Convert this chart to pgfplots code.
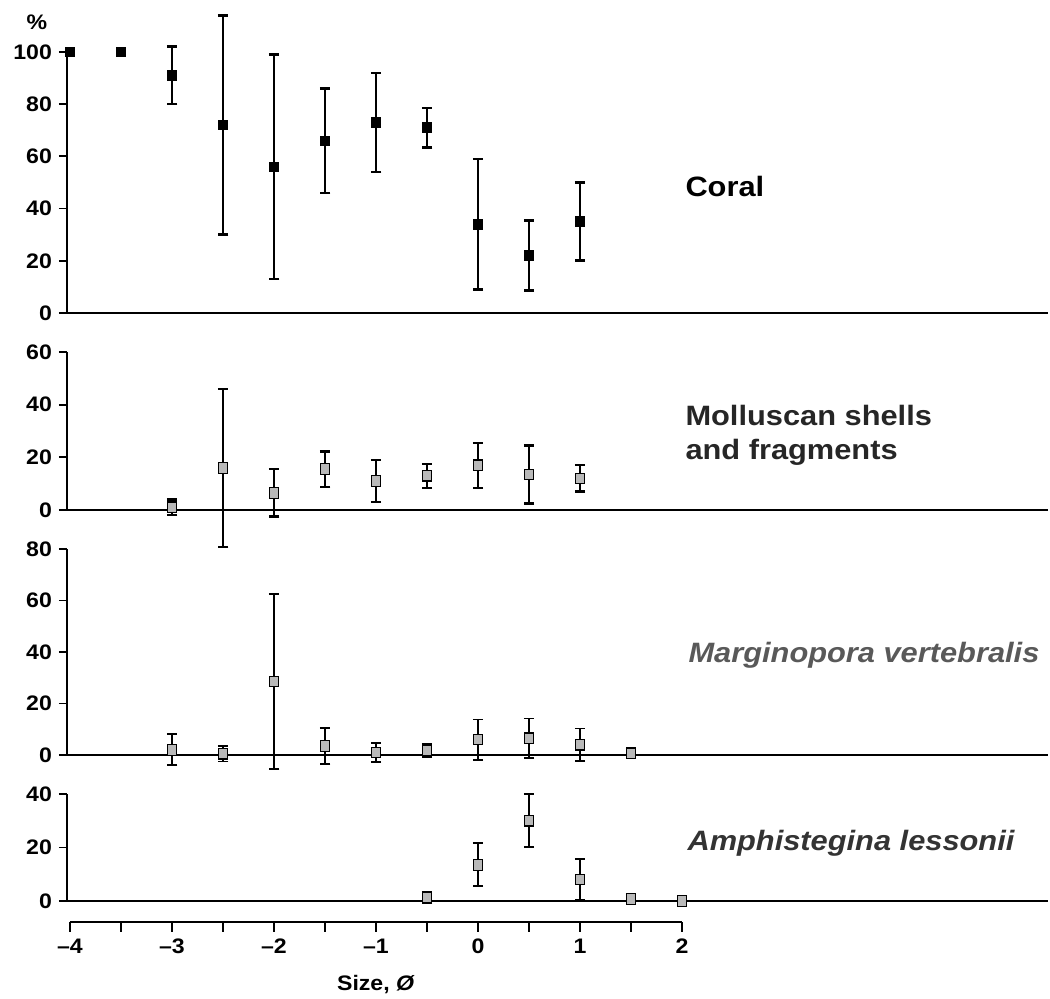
\documentclass[border=0pt]{standalone}
\usepackage{fontspec}
\setmainfont{Liberation Sans}[FakeStretch=1.1]
\usepackage{pgfplots}
\pgfplotsset{compat=1.18}
\usepackage{pgfplotstable}

\newcommand\ticks{\fontsize{10.5}{12}\selectfont\bfseries}
\newcommand\names{\fontsize{14}{17}\selectfont\bfseries}

% size (phi), percentage, error (+/-)
\pgfplotstableread{
x    y    e
-3   91   11
-2.5 72   42
-2   56   43
-1.5 66   20
-1   73   19
-0.5 71   7.5
0    34   25
0.5  22   13.5
1    35   15
}\coral
\pgfplotstableread{
x    y
-4   100
-3.5 100
}\coralnoerr
\pgfplotstableread{
x    y    e
-3   1    3
-2.5 16   30
-2   6.5  9
-1.5 15.5 6.7
-1   11   8
-0.5 13   4.5
0    17   8.5
0.5  13.5 11
1    12   5
}\mollusc
\pgfplotstableread{
x    y    e
-3   2    6
-2.5 0.5  3
-2   28.5 34
-1.5 3.5  7
-1   1    3.8
-0.5 1.8  2.5
0    6    7.8
0.5  6.5  7.7
1    4    6.3
1.5  0.7  1.8
}\margino
\pgfplotstableread{
x    y    e
-0.5 1.2  2
0    13.5 8
0.5  30   10
1    8    7.8
1.5  0.8  1.8
}\amphi
\pgfplotstableread{
x    y
2    0
}\amphinoerr

\pgfplotsset{
  panel/.style={
    scale only axis, anchor=south west,
    width=490.6pt, xmin=-4.03, xmax=5.59, ymin=0,
    axis lines=left, axis line style={-},
    x axis line style={line width=0.8pt},
    y axis line style={line width=1.1pt},
    clip=false, xtick=\empty,
    tick align=outside, major tick length=4pt,
    ytick style={line width=0.9pt, black},
    yticklabel style={font=\ticks},
    /pgf/number format/assume math mode=true,
  },
  greybox/.style={only marks, mark=square*, mark size=2.2pt, black,
    mark options={fill=gray!55, draw=black, line width=0.6pt, yscale=1.2}},
  bars/.style={error bars/.cd, y dir=both, y explicit,
    error bar style={line width=#1},
    error mark options={rotate=90, mark size=2.6pt, line width=#1}},
}

\begin{document}
\begin{tikzpicture}
\path[use as bounding box] (0,0) rectangle (525pt,499.5pt);

% Coral
\begin{axis}[panel, at={(33.5pt,343pt)}, height=130.5pt, ymax=100,
  ytick={0,20,...,100}]
\addplot[only marks, mark=square*, mark size=2.4pt, black, bars=1.3pt]
  table[x=x, y=y, y error=e] {\coral};
\addplot[only marks, mark=square*, mark size=2.4pt, black]
  table[x=x, y=y] {\coralnoerr};
\node[font=\ticks] at (rel axis cs:0,1) [xshift=-15pt, yshift=15pt] {\%};
\node[font=\names, anchor=west, inner sep=0pt] at (axis cs:2.03,48.3) {Coral};
\end{axis}

% Molluscan shells
\begin{axis}[panel, at={(33.5pt,244.5pt)}, height=79pt, ymax=60,
  ytick={0,20,40,60}]
\addplot[greybox, bars=1.1pt] table[x=x, y=y, y error=e] {\mollusc};
\node[font=\names, anchor=west, inner sep=0pt, align=left, text=black!85]
  at (axis cs:2.03,28.5) {Molluscan shells\\and fragments};
\end{axis}

% Marginopora
\begin{axis}[panel, at={(33.5pt,122pt)}, height=103pt, ymax=80,
  ytick={0,20,...,80}]
\addplot[greybox, bars=0.9pt] table[x=x, y=y, y error=e] {\margino};
\node[font=\names\itshape, anchor=west, inner sep=0pt, text=black!65]
  at (axis cs:2.06,38.8) {Marginopora vertebralis};
\end{axis}

% Amphistegina
\begin{axis}[panel, at={(33.5pt,49pt)}, height=53.5pt, ymax=40,
  ytick={0,20,40}]
\addplot[greybox, bars=1pt] table[x=x, y=y, y error=e] {\amphi};
\addplot[greybox] table[x=x, y=y] {\amphinoerr};
\node[font=\names\itshape, anchor=west, inner sep=0pt, text=black!80]
  at (axis cs:2.05,21.5) {Amphistegina lessonii};
\end{axis}

% size axis
\begin{axis}[scale only axis, anchor=south west, at={(35pt,38.5pt)},
  width=306pt, height=10pt, xmin=-4, xmax=2, ymin=0, ymax=1,
  axis x line=bottom, axis y line=none, axis line style={-, line width=1pt},
  xtick={-4,-3.5,...,2}, xticklabels={--4,,--3,,--2,,--1,,0,,1,,2},
  tick align=outside, major tick length=5pt,
  xtick style={line width=0.9pt, black},
  xticklabel style={font=\ticks},
  xlabel={Size, \textit{Ø}}, xlabel style={font=\ticks, yshift=-4pt}]
\end{axis}
\end{tikzpicture}
\end{document}
